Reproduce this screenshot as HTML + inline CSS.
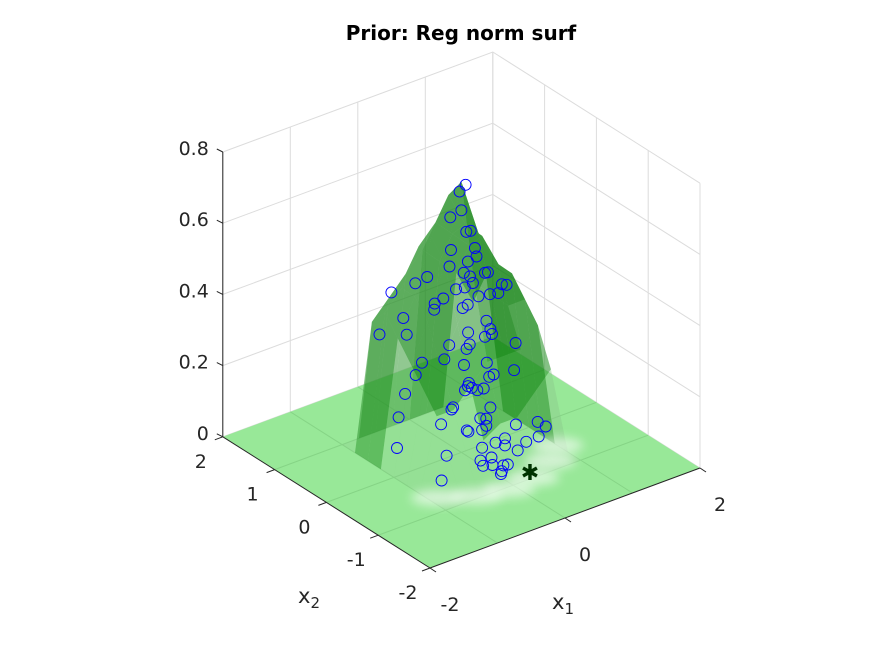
<!DOCTYPE html>
<html><head><meta charset="utf-8"><style>
html,body{margin:0;padding:0;background:#fff;}
svg{display:block;font-family:"DejaVu Sans","Liberation Sans",sans-serif;}
</style></head><body>
<svg id="chart" width="891" height="656" viewBox="0 0 891 656" xmlns="http://www.w3.org/2000/svg">
<defs>
<filter id="blur" x="-50%" y="-50%" width="200%" height="200%"><feGaussianBlur stdDeviation="5"/></filter>
</defs>
<text x="461" y="40" text-anchor="middle" font-weight="bold" font-size="20" fill="#000">Prior: Reg norm surf</text>
<g id="grid"></g>
<g id="floor"></g>
<g id="surf"></g>
<g id="pts"></g>
<g id="axes"></g>
</svg>
<script>
// ---- data ----
const gridX1 = [-1,-0.75,-0.5,-0.25,0,0.25,0.5,0.75,1];
const gridX2 = [1,0.75,0.5,0.25,0,-0.25,-0.5,-0.75,-1];
const heights = [
 [0,0,0,0,0,0,0,0,0],
 [0,0.35,0.4,0.45,0.5,0.45,0.4,0.3,0],
 [0,0.4,0.45,0.55,0.6,0.55,0.5,0.4,0],
 [0,0.35,0.45,0.6,0.7,0.6,0.55,0.45,0],
 [0,0.3,0.4,0.55,0.76,0.6,0.5,0.45,0],
 [0,0.25,0.3,0.4,0.5,0.45,0.4,0.4,0],
 [0,0.2,0.2,0.25,0.3,0.3,0.3,0.35,0],
 [0,0.1,0.1,0.12,0.15,0.15,0.2,0.25,0],
 [0,0,0,0,0,0,0,0,0]
];
const ptX1 = [0.05,0.1,0.0,-0.05,0.15,0.1,0.2,0.0,-0.1,0.05,0.25,0.3,0.35,0.4,-0.2,-0.3,-0.4,0.1,0.15,0.0,-0.05,0.2,0.3,0.5,0.6,0.7,-0.5,-0.6,0.1,0.0,0.05,-0.1,0.2,0.3,0.1,-0.2,0.0,0.15,0.25,0.4,0.55,0.65,-0.35,-0.45,0.05,0.1,-0.05,0.0,0.2,0.1,0.3,-0.15,0.45,0.5,0.8,0.9,-0.7,-0.8,-0.6,0.0,0.1,0.2,-0.1,0.05,0.15,0.35,0.25,-0.25,0.4,0.6,0.7,0.9,-0.3,0.0,0.1,0.2,0.3,-0.1,0.05,0.15,0.5,0.75,-0.6,-0.45,-0.2,-0.1,0.0,0.12,0.22,-0.3];
const ptX2 = [0.1,0.05,0.0,0.15,0.1,-0.05,0.0,0.2,0.1,-0.1,0.2,0.1,0.0,0.3,0.4,0.5,0.6,-0.2,0.3,0.35,0.45,-0.3,-0.2,0.1,0.0,0.2,0.7,0.8,0.0,-0.1,0.3,0.2,0.1,-0.1,-0.3,0.5,-0.2,0.05,0.2,-0.1,-0.3,-0.2,0.6,0.5,-0.3,-0.35,-0.2,-0.4,-0.4,-0.45,-0.45,-0.3,-0.5,-0.4,-0.45,-0.3,0.3,0.2,0.1,-0.6,-0.65,-0.55,-0.5,0.0,0.15,0.0,0.3,0.2,0.4,0.3,0.4,0.3,-0.2,-0.4,-0.35,-0.3,-0.45,-0.55,-0.7,-0.7,-0.6,-0.65,-0.4,-0.3,-0.1,-0.2,-0.05,-0.15,-0.25,0.0];
const ptZ  = [0.72,0.74,0.68,0.65,0.6,0.62,0.56,0.55,0.52,0.5,0.5,0.52,0.48,0.42,0.47,0.45,0.35,0.45,0.42,0.4,0.38,0.36,0.33,0.4,0.43,0.38,0.42,0.3,0.33,0.3,0.27,0.25,0.28,0.24,0.2,0.22,0.2,0.18,0.15,0.2,0.22,0.28,0.3,0.15,0.12,0.1,0.08,0.05,0.05,0.02,0.04,0.1,0.02,0.08,0.03,0.05,0.12,0.05,0.25,0.02,0.0,0.0,0.03,0.46,0.48,0.3,0.36,0.4,0.35,0.3,0.42,0.38,0.16,0.1,0.12,0.14,0.06,0.02,0.0,0.02,0.05,0.08,0.0,0.05,0.15,0.2,0.25,0.18,0.22,0.1];
const starPt = [0.34,-0.88,0];
const zTicks = [0,0.2,0.4,0.6,0.8];
const zTickLabels = ["0","0.2","0.4","0.6","0.8"];
const x1Ticks = [-2,0,2];
const x1TickLabels = ["-2","0","2"];
const x2Ticks = [-2,-1,0,1,2];
const x2TickLabels = ["-2","-1","0","1","2"];

// ---- projection ----
const O = [461.4,452.4];
function P(x1,x2,z){ return [O[0]+67.5*x1-51.8*x2, O[1]-25*x1-32.8*x2-356*z]; }
const NS="http://www.w3.org/2000/svg";
function mk(tag,attrs,parent){const e=document.createElementNS(NS,tag);for(const k in attrs)e.setAttribute(k,attrs[k]);parent.appendChild(e);return e;}
function pts(a){return a.map(p=>p[0].toFixed(1)+","+p[1].toFixed(1)).join(" ");}
const gG=document.getElementById('grid'),fG=document.getElementById('floor'),sG=document.getElementById('surf'),pG=document.getElementById('pts'),aG=document.getElementById('axes');
const gs={stroke:"#dcdcdc","stroke-width":1,fill:"none"};

for(const z of zTicks){
  let l=mk('polyline',Object.assign({points:pts([P(-2,2,z),P(2,2,z),P(2,-2,z)])},gs),gG);
  
  
}
for(const v of [-2,-1,0,1,2]){
  let a=mk('line',Object.assign({x1:P(v,2,0)[0],y1:P(v,2,0)[1],x2:P(v,2,0.8)[0],y2:P(v,2,0.8)[1]},gs),gG);
  
  
  let b=mk('line',Object.assign({x1:P(2,v,0)[0],y1:P(2,v,0)[1],x2:P(2,v,0.8)[0],y2:P(2,v,0.8)[1]},gs),gG);
  
  
}
let fl=mk('polygon',{points:pts([P(-2,2,0),P(2,2,0),P(2,-2,0),P(-2,-2,0)]),fill:"#98e898",stroke:"none"},fG);


for(const v of [-1,0,1]){
  let a=mk('line',{x1:P(v,2,0)[0],y1:P(v,2,0)[1],x2:P(v,-2,0)[0],y2:P(v,-2,0)[1],stroke:"#86d486","stroke-width":1},fG);
  
  
  let b=mk('line',{x1:P(2,v,0)[0],y1:P(2,v,0)[1],x2:P(-2,v,0)[0],y2:P(-2,v,0)[1],stroke:"#86d486","stroke-width":1},fG);
  
  
}
const quads=[];
for(let i=0;i<gridX2.length-1;i++)for(let j=0;j<gridX1.length-1;j++){
  const h=[heights[i][j],heights[i][j+1],heights[i+1][j+1],heights[i+1][j]];
  if(Math.max(...h)<0.015)continue;
  const c=[[gridX1[j],gridX2[i]],[gridX1[j+1],gridX2[i]],[gridX1[j+1],gridX2[i+1]],[gridX1[j],gridX2[i+1]]];
  const depth=(gridX1[j]+gridX1[j+1]+gridX2[i]+gridX2[i+1])/4;
  quads.push({c,h,depth,slope:(h[0]+h[3])-(h[1]+h[2]),avg:(h[0]+h[1]+h[2]+h[3])/4});
}
quads.sort((a,b)=>b.depth-a.depth);
for(const q of quads){
  const poly=q.c.map((c,k)=>P(c[0],c[1],q.h[k]));
  let shade=q.slope>0?"rgba(10,125,10,0.55)":"rgba(40,145,40,0.5)";
  if(q.avg<0.18) shade="rgba(140,200,140,0.25)";
  let e=mk('polygon',{points:pts(poly),fill:shade,stroke:"none"},sG);
  
  
}
for(const [a,b] of [[-0.9,-0.7],[-0.5,-0.95],[-0.1,-1.05],[0.3,-1.0],[0.7,-0.8],[1.0,-0.55]]){
  const c=P(a,b,0);
  let e=mk('ellipse',{cx:c[0],cy:c[1],rx:26,ry:8,fill:"#ffffff",opacity:0.6,filter:"url(#blur)"},sG);
  
  
}
for(let k=0;k<ptZ.length;k++){
  const p=P(ptX1[k],ptX2[k],ptZ[k]);
  let c=mk('circle',{cx:p[0].toFixed(1),cy:p[1].toFixed(1),r:5.5,fill:"none",stroke:"#0000ff","stroke-width":0.9},pG);
  
  
}
{
  const p=P(starPt[0],starPt[1],starPt[2]);
  let s=mk('text',{x:p[0],y:p[1]+7,"text-anchor":"middle","font-size":22,"font-weight":"bold",fill:"#003300"},pG);
  s.textContent="✱";
  
  
}
const ax={stroke:"#262626","stroke-width":1};
{
  let a=mk('line',Object.assign({x1:P(-2,2,0)[0],y1:P(-2,2,0)[1],x2:P(-2,2,0.8)[0],y2:P(-2,2,0.8)[1]},ax),aG);
  
  
  let b=mk('line',Object.assign({x1:P(-2,2,0)[0],y1:P(-2,2,0)[1],x2:P(-2,-2,0)[0],y2:P(-2,-2,0)[1]},ax),aG);
  
  
  let c=mk('line',Object.assign({x1:P(-2,-2,0)[0],y1:P(-2,-2,0)[1],x2:P(2,-2,0)[0],y2:P(2,-2,0)[1]},ax),aG);
  
  
}
zTicks.forEach((z,k)=>{
  const p=P(-2,2,z);
  let t=mk('line',Object.assign({x1:p[0]-6,y1:p[1]-3,x2:p[0],y2:p[1]},ax),aG);
  
  
  let l=mk('text',{x:p[0]-14,y:p[1]+3,"text-anchor":"end","font-size":19,fill:"#262626"},aG);
  l.textContent=zTickLabels[k];
  
  
});
x2Ticks.forEach((v,k)=>{
  const p=P(-2,v,0);
  let t=mk('line',Object.assign({x1:p[0],y1:p[1],x2:p[0]-8,y2:p[1]+3},ax),aG);
  
  
  let l=mk('text',{x:p[0]-22,y:p[1]+31,"text-anchor":"middle","font-size":19,fill:"#262626"},aG);
  l.textContent=x2TickLabels[k];
  
  
});
x1Ticks.forEach((v,k)=>{
  const p=P(v,-2,0);
  let t=mk('line',Object.assign({x1:p[0],y1:p[1],x2:p[0]+6,y2:p[1]+4},ax),aG);
  
  
  let l=mk('text',{x:p[0]+20,y:p[1]+43,"text-anchor":"middle","font-size":19,fill:"#262626"},aG);
  l.textContent=x1TickLabels[k];
  
  
});
</script>
<div style="position:absolute;left:0;top:0;width:891px;height:656px;pointer-events:none;font-family:'DejaVu Sans','Liberation Sans',sans-serif;font-size:21px;color:#262626">
<div style="position:absolute;left:298px;top:584px">x<sub style="font-size:15px">2</sub></div>
<div style="position:absolute;left:552px;top:590px">x<sub style="font-size:15px">1</sub></div>
</div>
</body></html>
